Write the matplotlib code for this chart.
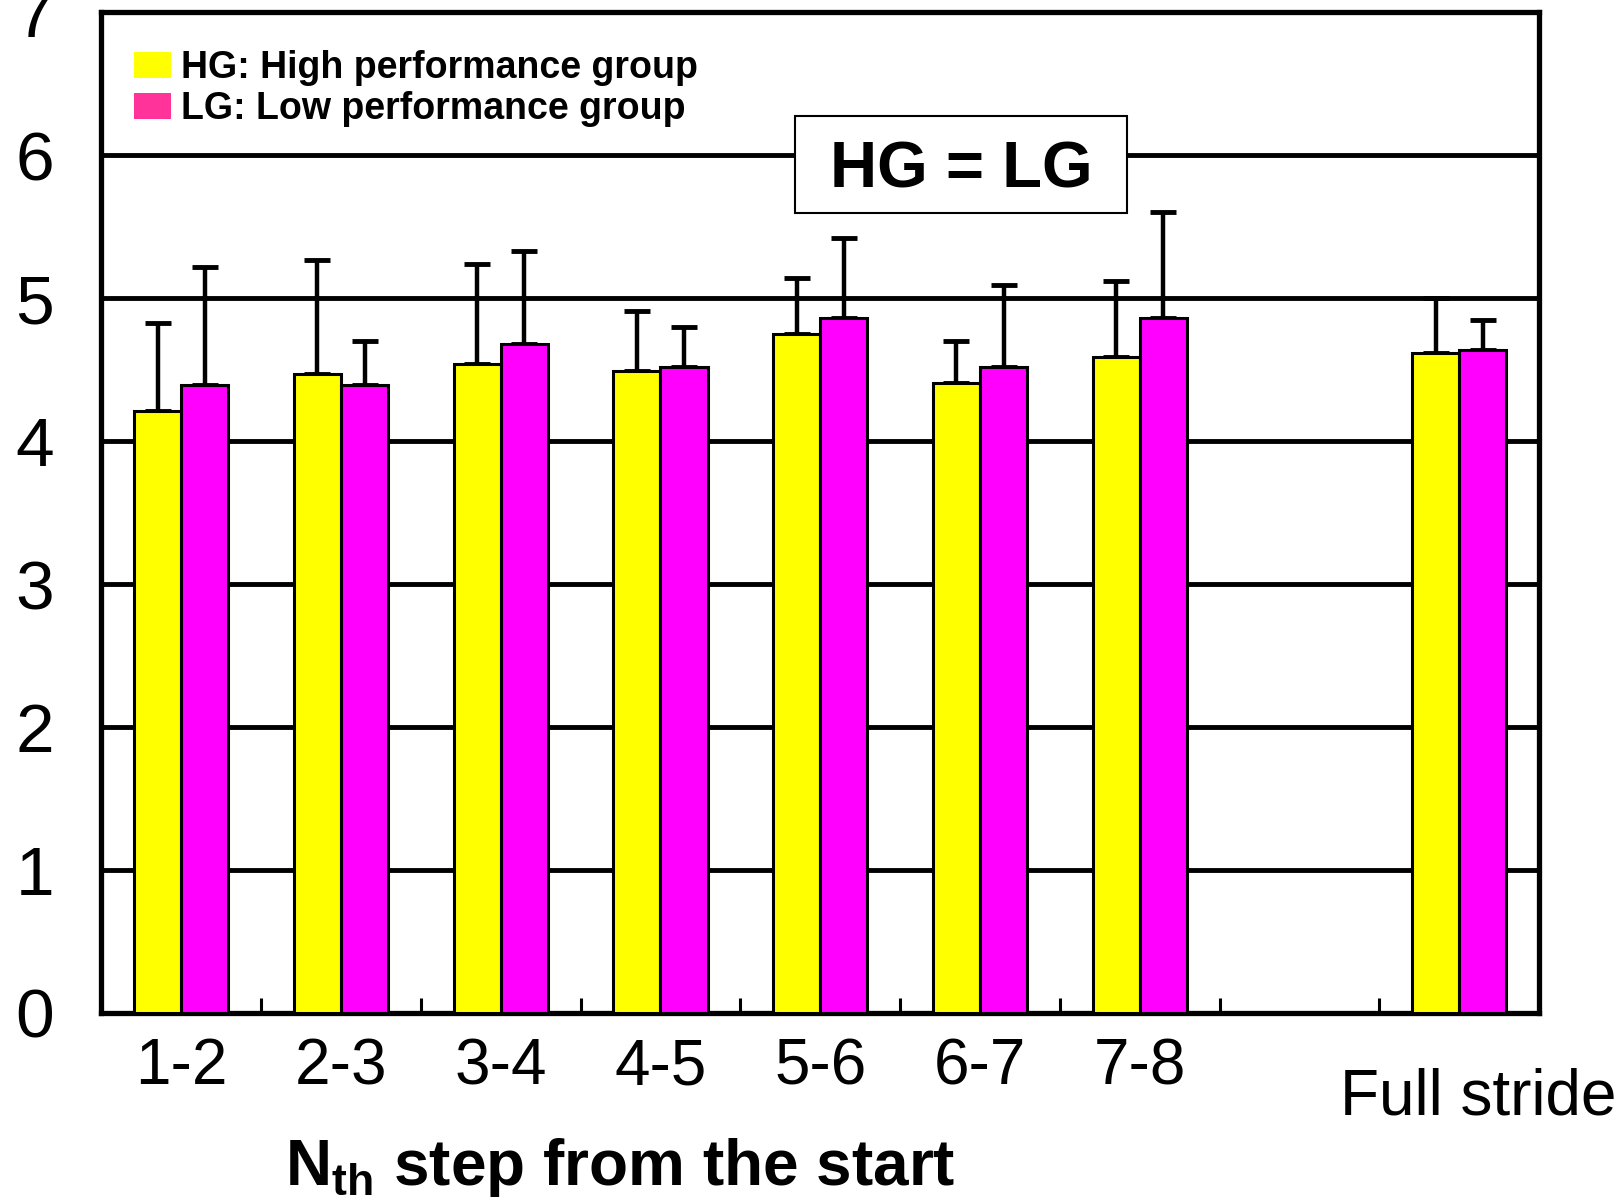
import numpy as np
import matplotlib
matplotlib.use('Agg')
import matplotlib.pyplot as plt
from matplotlib.patches import Patch, Rectangle

plt.rcParams['font.family'] = ['Liberation Sans', 'DejaVu Sans']
plt.rcParams['mathtext.fontset'] = 'custom'
plt.rcParams['mathtext.rm'] = 'Liberation Sans'
plt.rcParams['mathtext.bf'] = 'Liberation Sans:bold'

# values
labels = ['1-2', '2-3', '3-4', '4-5', '5-6', '6-7', '7-8', 'Full stride']
hg_mean = [4.21, 4.47, 4.54, 4.49, 4.75, 4.41, 4.59, 4.62]
hg_sd = [0.62, 0.80, 0.70, 0.42, 0.39, 0.29, 0.53, 0.38]
lg_mean = [4.39, 4.39, 4.68, 4.52, 4.86, 4.52, 4.86, 4.64]
lg_sd = [0.83, 0.31, 0.65, 0.28, 0.56, 0.57, 0.74, 0.21]
yticks = [0, 1, 2, 3, 4, 5, 6, 7]

HG_COLOR = '#FFFF00'
LG_COLOR = '#FF00FF'
LG_LEGEND = '#FF3399'

# category slots: an empty slot before "Full stride"
slots = np.array(list(range(7)) + [8])
w = 0.295

fig = plt.figure(figsize=(16.22, 11.97), dpi=100)
ax = fig.add_axes([0.0625, 0.1538, 0.8864, 0.8359])

ax.bar(slots - w / 2, hg_mean, width=w, color=HG_COLOR, edgecolor='black', linewidth=2.2, zorder=3)
ax.bar(slots + w / 2, lg_mean, width=w, color=LG_COLOR, edgecolor='black', linewidth=2.2, zorder=3)

zeros = np.zeros(len(slots))
ax.errorbar(slots - w / 2, hg_mean, yerr=[zeros, hg_sd], fmt='none', ecolor='black',
            elinewidth=3.2, capsize=9.5, capthick=3.5, zorder=2)
ax.errorbar(slots + w / 2, lg_mean, yerr=[zeros, lg_sd], fmt='none', ecolor='black',
            elinewidth=3.2, capsize=9.5, capthick=3.5, zorder=2)

ax.set_xlim(-0.5, 8.5)
ax.set_ylim(0, 7)
ax.set_yticks(yticks)
ax.set_yticklabels([str(t) for t in yticks], fontsize=50)
ax.tick_params(axis='y', length=0, pad=34)
for y in yticks[1:-1]:
    ax.axhline(y, color='black', linewidth=3.5, zorder=1)

ax.set_xticks(np.arange(0.5, 8, 1.0))
ax.set_xticklabels([])
ax.tick_params(axis='x', direction='in', length=11, width=2.2)
for s, lab in zip(slots[:-1], labels[:-1]):
    ax.text(s, -0.17, lab, ha='center', va='top', fontsize=46)
ax.text(slots[-1] + 0.12, -0.38, labels[-1], ha='center', va='top', fontsize=46, clip_on=False)

ax.text(2.75, -0.86, r'N$_{\mathbf{th}}$ step from the start', ha='center', va='top',
        fontsize=46, fontweight='bold')

for sp in ax.spines.values():
    sp.set_linewidth(3.8)

# legend
handles = [Patch(facecolor=HG_COLOR, edgecolor='none', label='HG: High performance group'),
           Patch(facecolor=LG_LEGEND, edgecolor='none', label='LG: Low performance group')]
ax.legend(handles=handles, loc='upper left', bbox_to_anchor=(0.012, 0.977), frameon=False,
          prop={'weight': 'bold', 'size': 27}, handlelength=1.0, handleheight=0.7,
          handletextpad=0.25, labelspacing=0.12, borderaxespad=0.0)

# HG = LG box
ax.add_patch(Rectangle((3.84, 5.595), 2.08, 0.68, facecolor='white', edgecolor='black',
                       linewidth=1.5, zorder=4))
ax.text(4.88, 5.89, 'HG = LG', ha='center', va='center', fontsize=47, fontweight='bold', zorder=5)

fig.savefig('out.png', dpi=100)
